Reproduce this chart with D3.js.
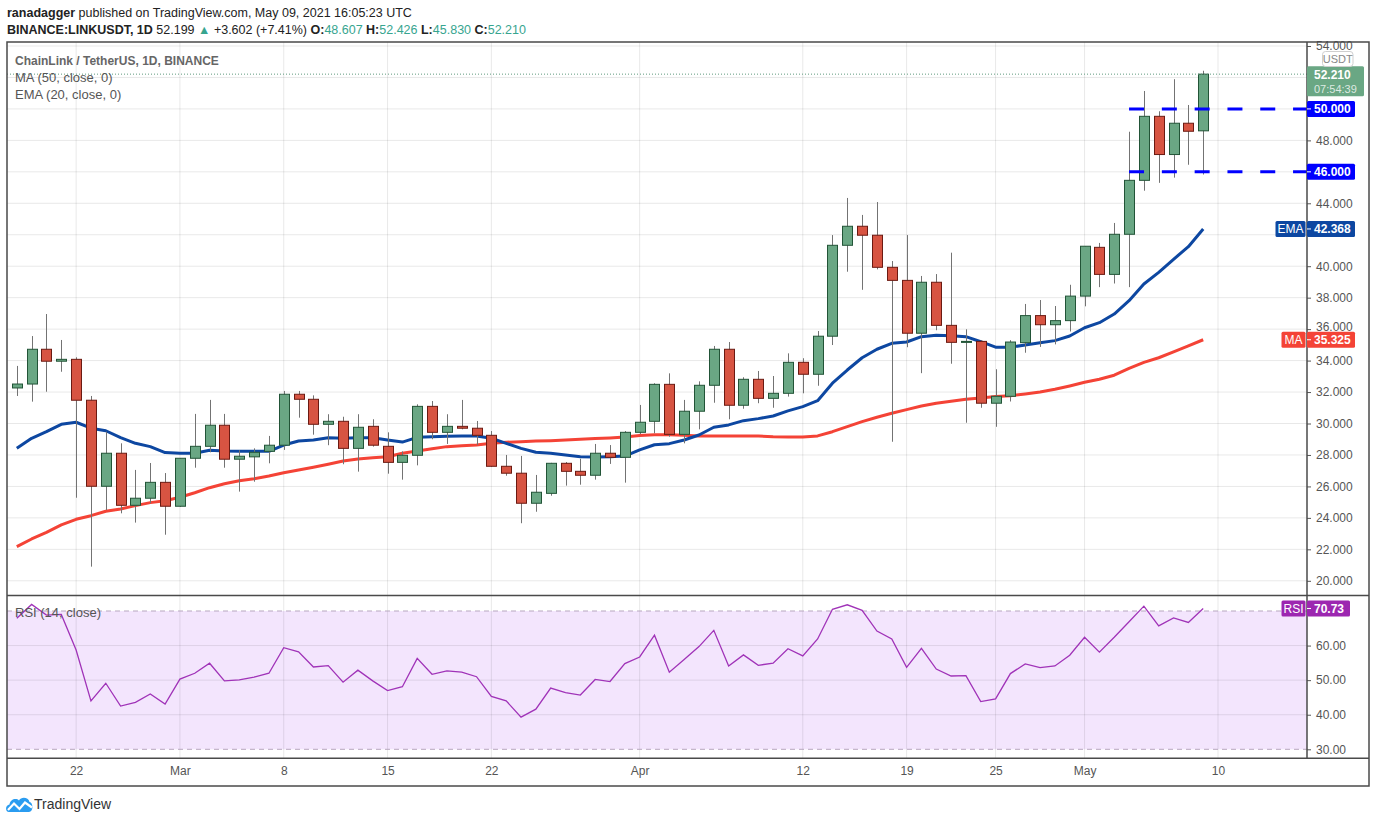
<!DOCTYPE html>
<html>
<head>
<meta charset="utf-8">
<script src="https://d3js.org/d3.v7.min.js"></script>
<style>
body { margin: 0; background: #fff; }
svg { display: block; font-family: "Liberation Sans", Arial, sans-serif; }
</style>
</head>
<body>
<svg id="chart" width="1376" height="823"></svg>
<script>
// daily candles, Feb 18 .. May 9 2021
var opens = [32.26, 32.51, 34.72, 33.96, 34.08, 31.48, 26.01, 28.11, 24.80, 25.25, 26.26,
    24.74, 27.79, 28.55, 29.89, 27.73, 27.88, 28.23, 28.62, 31.86, 31.54, 29.95, 30.14, 28.42, 29.82, 28.55, 27.53, 27.98, 31.09, 29.44, 29.82, 29.70, 29.25, 27.28, 26.84, 24.93, 25.56, 27.47, 26.96, 26.71, 28.11, 27.85,
    29.44, 30.14, 32.49, 29.31, 30.78, 32.43, 34.72, 31.16, 32.81, 31.60, 31.92, 33.89, 33.13, 35.55, 41.33, 42.54, 41.97, 39.93, 39.10, 35.74, 38.98, 36.24, 35.16, 35.22, 31.29, 31.73, 35.14, 36.86, 36.28, 36.54,
    38.10, 41.20, 39.48, 42.03, 45.46, 49.53, 47.10, 49.09, 48.607];
var highs = [33.66, 35.56, 36.96, 35.31, 34.21, 31.75, 29.48, 28.74, 27.05, 27.49, 26.85,
    27.80, 30.61, 31.50, 30.61, 28.30, 28.42, 29.21, 32.07, 32.07, 31.79, 30.59, 30.43, 30.59, 30.27, 29.44, 28.23, 31.22, 31.43, 30.59, 31.50, 30.16, 29.52, 28.00, 27.94, 26.73, 27.50, 27.55, 27.76, 28.70, 28.63, 29.52,
    31.18, 32.56, 33.19, 31.50, 32.68, 34.93, 35.18, 32.94, 33.34, 33.02, 34.46, 34.15, 35.88, 41.98, 44.34, 43.26, 44.08, 40.33, 41.98, 39.38, 39.50, 40.86, 35.99, 35.30, 33.45, 35.30, 37.60, 37.85, 37.47, 38.82,
    41.27, 41.48, 42.75, 48.55, 51.14, 49.85, 51.89, 50.25, 52.426];
var lows = [31.75, 31.39, 32.02, 33.29, 25.28, 20.90, 24.50, 24.29, 23.70, 24.93, 22.93,
    24.69, 27.19, 28.17, 27.19, 25.67, 26.30, 27.47, 28.32, 30.37, 29.29, 28.62, 27.41, 26.94, 28.53, 26.81, 26.43, 27.34, 29.00, 28.70, 29.63, 28.63, 27.24, 26.68, 23.66, 24.39, 25.41, 26.05, 26.11, 26.43, 27.43, 26.24,
    29.33, 29.38, 29.16, 28.74, 29.63, 31.32, 30.27, 30.94, 31.29, 31.00, 31.71, 31.92, 32.40, 34.99, 39.65, 38.50, 39.80, 28.84, 34.85, 33.20, 35.93, 33.80, 30.05, 31.00, 29.79, 31.40, 34.50, 34.87, 35.03, 35.85,
    37.45, 38.67, 38.90, 38.67, 44.80, 45.30, 45.63, 46.45, 45.830];
var closes = [32.51, 34.72, 33.96, 34.08, 31.48, 26.01, 28.11, 24.80, 25.25, 26.26, 24.74,
    27.79, 28.55, 29.89, 27.73, 27.92, 28.17, 28.62, 31.86, 31.54, 29.95, 30.14, 28.42, 29.76, 28.62, 27.53, 27.98, 31.09, 29.44, 29.82, 29.70, 29.25, 27.28, 26.84, 24.93, 25.63, 27.47, 26.96, 26.71, 28.11, 27.85, 29.44,
    30.08, 32.49, 29.31, 30.78, 32.43, 34.72, 31.16, 32.81, 31.60, 31.92, 33.89, 33.13, 35.55, 41.33, 42.54, 41.97, 39.93, 39.10, 35.74, 38.98, 36.24, 35.16, 35.22, 31.29, 31.73, 35.18, 36.86, 36.28, 36.54, 38.10,
    41.27, 39.48, 42.03, 45.46, 49.53, 47.10, 49.09, 48.58, 52.210];

// indicator values
var ema20 = [28.42, 29.06, 29.48, 29.95, 30.08, 29.70, 29.54, 29.10, 28.74, 28.53, 28.15,
    28.11, 28.11, 28.30, 28.25, 28.23, 28.23, 28.23, 28.63, 28.89, 28.95, 29.10, 29.06, 29.10, 29.10, 28.95, 28.82, 29.12, 29.16, 29.19,
    29.21, 29.21, 29.06, 28.74, 28.42, 28.17, 28.11, 28.00, 27.89, 27.87, 27.89, 27.93,
    28.32, 28.65, 28.72, 28.95, 29.27, 29.76, 29.91, 30.18, 30.31, 30.48, 30.80, 31.07, 31.45, 32.56, 33.40, 34.18, 34.72, 35.10, 35.18, 35.52, 35.61, 35.58, 35.52, 35.20, 34.85, 34.85, 34.99, 35.14, 35.27, 35.56,
    36.09, 36.41, 36.96, 37.81, 38.87, 39.61, 40.44, 41.24, 42.368];
var ma50 = [22.17, 22.66, 23.08, 23.55, 23.91, 24.14, 24.42, 24.57, 24.78, 24.97, 25.09,
    25.31, 25.60, 25.92, 26.17, 26.36, 26.49, 26.66, 26.87, 27.04, 27.22, 27.41, 27.62, 27.74, 27.83, 27.89, 28.11, 28.25, 28.40, 28.53,
    28.58, 28.63, 28.74, 28.81, 28.84, 28.89, 28.91, 28.95, 29.00, 29.04, 29.08, 29.14,
    29.23, 29.29, 29.29, 29.25, 29.21, 29.21, 29.21, 29.21, 29.21, 29.16, 29.14, 29.14, 29.21, 29.48, 29.80, 30.12, 30.40, 30.65, 30.88, 31.11, 31.29, 31.41, 31.54, 31.62, 31.71, 31.77, 31.88, 32.00, 32.18, 32.39,
    32.62, 32.81, 33.07, 33.51, 33.89, 34.18, 34.55, 34.93, 35.325];
var rsi14 = [67.9, 71.9, 68.8, 69.0, 58.7, 44.0, 49.1, 42.5, 43.6, 46.0, 43.1,
    50.3, 52.0, 54.9, 49.8, 50.1, 50.9, 52.0, 59.4, 58.2, 53.8, 54.2, 49.4, 52.9, 49.8, 47.0, 48.1, 56.3, 51.7, 52.7, 52.3,
    51.0, 45.3, 44.0, 39.3, 41.6, 47.7, 46.4, 45.7, 50.2, 49.6, 54.8,
    56.7, 63.0, 52.3, 56.0, 59.7, 64.4, 54.1, 57.3, 54.3, 54.9, 59.1, 57.0, 61.9, 70.5, 71.8, 70.2, 64.2, 61.9, 53.7, 59.2, 53.2, 51.2, 51.3, 43.8, 44.6, 51.9, 54.7, 53.6, 54.1, 57.2,
    62.4, 58.1, 62.4, 66.9, 71.4, 65.7, 68.0, 66.7, 70.73];

var timeTicks = ["2021-02-22", "2021-03-01", "2021-03-08", "2021-03-15", "2021-03-22", "2021-04-01",
    "2021-04-12", "2021-04-19", "2021-04-25", "2021-05-01", "2021-05-10"];
var timeLabels = ["22", "Mar", "8", "15", "22", "Apr", "12", "19", "25", "May", "10"];
var priceTicks = [20, 22, 24, 26, 28, 30, 32, 34, 36, 38, 40, 42, 44, 46, 48, 50, 52, 54];
var rsiTicks = [30, 40, 50, 60];
var levels = [50, 46];

var dates = d3.utcDay.range(new Date(Date.UTC(2021, 1, 18)), new Date(Date.UTC(2021, 4, 10)));
var candles = dates.map(function(d, i) {
    return {date: d, o: opens[i], h: highs[i], l: lows[i], c: closes[i], ema: ema20[i], ma: ma50[i], rsi: rsi14[i]};
});

// layout
var L = 7, R = 1307, OUTR = 1369, TOP = 42, SPLIT = 595.5, RSIBOT = 758.3, BOT = 786;
var green = "#6aa784", red = "#d75442";

var x = d3.scaleUtc()
    .domain([dates[0], dates[dates.length - 1]])
    .range([16.8, 1203.2]);
var y = d3.scaleLinear().domain([20, 54]).range([580.8, 46]);
var yr = d3.scaleLinear().domain([30, 70]).range([749.3, 611]);

var last = candles[candles.length - 1];

var svg = d3.select("#chart");
svg.append("rect").attr("width", 1376).attr("height", 823).attr("fill", "#fff");

var defs = svg.append("defs");
defs.append("clipPath").attr("id", "cp").append("rect")
    .attr("x", L).attr("y", TOP).attr("width", R - L).attr("height", SPLIT - TOP);
defs.append("clipPath").attr("id", "cr").append("rect")
    .attr("x", L).attr("y", SPLIT).attr("width", R - L).attr("height", RSIBOT - SPLIT);

// rsi band
svg.append("rect").attr("x", L).attr("y", yr(70)).attr("width", R - L)
    .attr("height", yr(30) - yr(70)).attr("fill", "#f3e5fd");

// grid
var grid = svg.append("g").attr("stroke", "rgba(0,0,0,0.09)").attr("stroke-width", 1);
grid.selectAll(".gx").data(timeTicks).enter().append("line")
    .attr("x1", function(d) { return x(new Date(d)); })
    .attr("x2", function(d) { return x(new Date(d)); })
    .attr("y1", TOP).attr("y2", RSIBOT);
grid.selectAll(".gy").data(priceTicks).enter().append("line")
    .attr("clip-path", "url(#cp)")
    .attr("x1", L).attr("x2", R)
    .attr("y1", function(d) { return y(d); }).attr("y2", function(d) { return y(d); });
grid.selectAll(".gr").data([40, 50, 60]).enter().append("line")
    .attr("x1", L).attr("x2", R)
    .attr("y1", function(d) { return yr(d); }).attr("y2", function(d) { return yr(d); });
svg.selectAll(".band").data([70, 30]).enter().append("line")
    .attr("x1", L).attr("x2", R)
    .attr("y1", function(d) { return yr(d); }).attr("y2", function(d) { return yr(d); })
    .attr("stroke", "#b7a7bf").attr("stroke-dasharray", "5,4");

// price pane
var pane = svg.append("g").attr("clip-path", "url(#cp)");

var lineMa = d3.line().x(function(d) { return x(d.date); }).y(function(d) { return y(d.ma); });
var lineEma = d3.line().x(function(d) { return x(d.date); }).y(function(d) { return y(d.ema); });
pane.append("path").datum(candles).attr("d", lineMa)
    .attr("fill", "none").attr("stroke", "#f44336").attr("stroke-width", 3).attr("stroke-linejoin", "round");
pane.append("path").datum(candles).attr("d", lineEma)
    .attr("fill", "none").attr("stroke", "#0d47a1").attr("stroke-width", 3).attr("stroke-linejoin", "round");

var cg = pane.selectAll(".candle").data(candles).enter().append("g");
cg.append("line")
    .attr("x1", function(d) { return Math.round(x(d.date)) + 0.5; })
    .attr("x2", function(d) { return Math.round(x(d.date)) + 0.5; })
    .attr("y1", function(d) { return y(d.h); }).attr("y2", function(d) { return y(d.l); })
    .attr("stroke", "#737373");
cg.append("rect")
    .attr("x", function(d) { return Math.round(x(d.date)) - 4.5; })
    .attr("width", 10)
    .attr("y", function(d) { return y(Math.max(d.o, d.c)); })
    .attr("height", function(d) { return Math.max(1, Math.abs(y(d.o) - y(d.c))); })
    .attr("fill", function(d) { return d.c >= d.o ? green : red; })
    .attr("stroke", function(d) { return d.c >= d.o ? "#225437" : "#6b1a12"; })
    .attr("stroke-width", 1);

pane.append("line").attr("x1", L).attr("x2", R)
    .attr("y1", y(last.c)).attr("y2", y(last.c))
    .attr("stroke", "#5f9a7e").attr("stroke-dasharray", "1,2");

pane.selectAll(".lvl").data(levels).enter().append("line")
    .attr("x1", x(dates[75])).attr("x2", R)
    .attr("y1", function(d) { return y(d); }).attr("y2", function(d) { return y(d); })
    .attr("stroke", "#0000ff").attr("stroke-width", 3).attr("stroke-dasharray", "15,17.8");

// rsi pane
svg.append("g").attr("clip-path", "url(#cr)").append("path").datum(candles)
    .attr("d", d3.line().x(function(d) { return x(d.date); }).y(function(d) { return yr(d.rsi); }))
    .attr("fill", "none").attr("stroke", "#a033b8").attr("stroke-width", 1.3);

// axes
var ay = svg.append("g").attr("transform", "translate(" + R + ",0)")
    .call(d3.axisRight(y).tickValues(priceTicks).tickFormat(d3.format(".3f")).tickSize(4).tickPadding(5));
var ar = svg.append("g").attr("transform", "translate(" + R + ",0)")
    .call(d3.axisRight(yr).tickValues(rsiTicks).tickFormat(d3.format(".2f")).tickSize(4).tickPadding(5));
var ax = svg.append("g").attr("transform", "translate(0," + RSIBOT + ")")
    .call(d3.axisBottom(x).tickValues(timeTicks.map(function(d) { return new Date(d); }))
        .tickFormat(function(d, i) { return timeLabels[i]; }).tickSize(0).tickPadding(8));
[ay, ar, ax].forEach(function(a) {
    a.select(".domain").remove();
    a.selectAll("text").attr("fill", "#555").style("font-size", "12px")
        .style("font-family", "'Liberation Sans', Arial, sans-serif");
    a.selectAll("line").attr("stroke", "#555");
});
// price labels hidden under the badges on the scale
var covered = [y(last.c) + 7, y(50), y(46), y(last.ema)];
ay.selectAll(".tick").filter(function(d) {
    return covered.some(function(c) { return Math.abs(y(d) - c) < 11; });
}).remove();
// 36.000 sits just above the MA badge and shows only partly
ay.selectAll(".tick").filter(function(d) { return d === 36; }).select("text").attr("dy", "0.1em");

// frame
var frame = svg.append("g").attr("stroke", "#4a4a4a").attr("stroke-width", 1.5).attr("fill", "none");
frame.append("rect").attr("x", L).attr("y", TOP).attr("width", OUTR - L).attr("height", BOT - TOP);
frame.append("line").attr("x1", L).attr("x2", OUTR).attr("y1", SPLIT).attr("y2", SPLIT);
frame.append("line").attr("x1", L).attr("x2", OUTR).attr("y1", RSIBOT).attr("y2", RSIBOT);
frame.append("line").attr("x1", R).attr("x2", R).attr("y1", TOP).attr("y2", RSIBOT);

// price badges
function badge(cy, text, fill, w) {
    var g = svg.append("g");
    g.append("rect").attr("x", R).attr("y", cy - 8).attr("width", w).attr("height", 16)
        .attr("rx", 1.5).attr("fill", fill);
    g.append("line").attr("x1", R).attr("x2", R + 4).attr("y1", cy).attr("y2", cy).attr("stroke", "#fff");
    g.append("text").attr("x", R + 7).attr("y", cy + 4.2).text(text)
        .attr("fill", "#fff").style("font-size", "12px").style("font-weight", "bold");
}
function tag(cy, text, fill, w) {
    svg.append("rect").attr("x", R - 1.5 - w).attr("y", cy - 8).attr("width", w).attr("height", 16)
        .attr("rx", 1.5).attr("fill", fill);
    svg.append("text").attr("x", R - 1.5 - w / 2).attr("y", cy + 4.2).attr("text-anchor", "middle").text(text)
        .attr("fill", "#fff").style("font-size", "12px");
}
levels.forEach(function(v) { badge(y(v), d3.format(".3f")(v), "#0000ff", 48); });
badge(y(last.ema), d3.format(".3f")(last.ema), "#0d47a1", 48);
tag(y(last.ema), "EMA", "#0d47a1", 30);
badge(y(last.ma), d3.format(".3f")(last.ma), "#f44336", 48);
tag(y(last.ma), "MA", "#f44336", 24);
badge(yr(last.rsi), d3.format(".2f")(last.rsi), "#9c27b0", 43);
tag(yr(last.rsi), "RSI", "#9c27b0", 24);

// last price badge
var lp = svg.append("g");
lp.append("rect").attr("x", R).attr("y", y(last.c) - 8).attr("width", 57).attr("height", 30)
    .attr("rx", 1.5).attr("fill", green);
lp.append("text").attr("x", R + 7).attr("y", y(last.c) + 4.5).text(d3.format(".3f")(last.c))
    .attr("fill", "#fff").style("font-size", "12px").style("font-weight", "bold");
lp.append("text").attr("x", R + 7).attr("y", y(last.c) + 18.5).text("07:54:39")
    .attr("fill", "rgba(255,255,255,0.78)").style("font-size", "11px");
lp.append("rect").attr("x", 1322.5).attr("y", 51.5).attr("width", 30.5).attr("height", 15)
    .attr("rx", 3).attr("fill", "#fff").attr("stroke", "#cfcfcf");
lp.append("text").attr("x", 1337.7).attr("y", 63).attr("text-anchor", "middle").text("USDT")
    .attr("fill", "#888").style("font-size", "11px");

// legends
var lg = svg.append("g").style("font-size", "13px").attr("fill", "#555");
lg.append("text").attr("x", 15).attr("y", 65).text("ChainLink / TetherUS, 1D, BINANCE")
    .style("font-weight", "bold").style("font-size", "12px").attr("fill", "#666");
lg.append("text").attr("x", 15).attr("y", 82).text("MA (50, close, 0)");
lg.append("text").attr("x", 15).attr("y", 99).text("EMA (20, close, 0)");
lg.append("text").attr("x", 15).attr("y", 617).text("RSI (14, close)");

// header
var teal = "#37a58f";
var h1 = svg.append("text").attr("x", 7).attr("y", 17).style("font-size", "12.5px").attr("fill", "#222");
h1.append("tspan").text("ranadagger").style("font-weight", "bold");
h1.append("tspan").text(" published on TradingView.com, May 09, 2021 16:05:23 UTC");
var h2 = svg.append("text").attr("x", 7).attr("y", 34).style("font-size", "12.5px").attr("fill", "#222");
h2.append("tspan").text("BINANCE:LINKUSDT, 1D").style("font-weight", "bold");
h2.append("tspan").text("  52.199 ");
h2.append("tspan").text("▲").attr("fill", teal);
h2.append("tspan").text(" +3.602 (+7.41%) ");
[["O:", "48.607"], ["H:", "52.426"], ["L:", "45.830"], ["C:", "52.210"]].forEach(function(p, i) {
    h2.append("tspan").text((i ? " " : "") + p[0]).style("font-weight", "bold");
    h2.append("tspan").text(p[1]).attr("fill", teal);
});

// footer logo
var logo = svg.append("g");
logo.append("path")
    .attr("d", "M9,812 C5,812 5,805 9.5,804.5 C10,799.5 16,797.5 19,800.5 C21,796.5 28.5,797 29.5,802 C33.5,802.5 33.5,812 29,812 Z")
    .attr("fill", "#2a9cf0");
logo.append("polyline").attr("points", "8,810 14,803.5 19.5,809 25,802.5 32,807.5")
    .attr("fill", "none").attr("stroke", "#fff").attr("stroke-width", 2.2);
svg.append("text").attr("x", 34).attr("y", 809).text("TradingView")
    .attr("fill", "#333").style("font-size", "14px");
</script>
</body>
</html>
